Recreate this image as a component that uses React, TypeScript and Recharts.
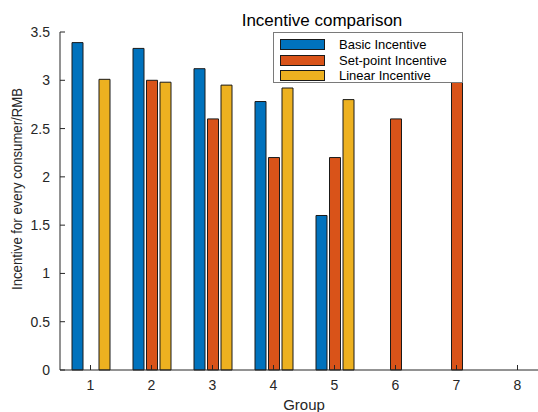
import { Bar, BarChart, XAxis, YAxis } from 'recharts'

const groups = ['1', '2', '3', '4', '5', '6', '7', '8']
const basicIncentive = [3.39, 3.33, 3.12, 2.78, 1.6, 0, 0, 0]
const setpointIncentive = [0, 3.0, 2.6, 2.2, 2.2, 2.6, 3.0, 0]
const linearIncentive = [3.01, 2.98, 2.95, 2.92, 2.8, 0, 0, 0]
const yTicks = [0, 0.5, 1, 1.5, 2, 2.5, 3, 3.5]

const seriesNames = ['Basic Incentive', 'Set-point Incentive', 'Linear Incentive']
const seriesColors = ['#0072BD', '#D95319', '#EDB120']

const data = groups.map((g, i) => ({
  group: g,
  basic: basicIncentive[i],
  setpoint: setpointIncentive[i],
  linear: linearIncentive[i],
}))

const font = '"Liberation Sans", Arial, sans-serif'
const axisColor = '#262626'

function LegendBox() {
  return (
    <div
      style={{
        position: 'absolute',
        left: 273,
        top: 32,
        border: '1px solid #7a7a7a',
        background: '#fff',
        boxSizing: 'border-box',
        width: 190,
        height: 51,
        padding: '4px 0 0 6px',
        fontFamily: font,
        fontSize: 13,
        color: '#000',
      }}
    >
      {seriesNames.map((name, i) => (
        <div key={name} style={{ display: 'flex', alignItems: 'center', height: 15.5 }}>
          <span
            style={{
              display: 'inline-block',
              width: 45,
              height: 11,
              background: seriesColors[i],
              border: '1px solid #1a1a1a',
              boxSizing: 'border-box',
              marginRight: 14,
            }}
          />
          <span>{name}</span>
        </div>
      ))}
    </div>
  )
}

export default function App() {
  return (
    <div
      style={{
        position: 'fixed',
        left: 0,
        top: 0,
        width: 538,
        height: 412,
        overflow: 'hidden',
        background: '#fff',
      }}
    >
      <BarChart
        width={560}
        height={412}
        data={data}
        margin={{ top: 32, right: 12, left: 0, bottom: 0 }}
        barSize={11}
        barGap={2.5}
      >
        <text x={322} y={26} textAnchor="middle" fontFamily={font} fontSize={17} fill="#000">
          Incentive comparison
        </text>
        <XAxis
          xAxisId="top"
          orientation="top"
          dataKey="group"
          height={0}
          tickSize={-5}
          tick={{ fill: 'none', fontSize: 1 }}
          stroke={axisColor}
        />
        <XAxis
          dataKey="group"
          height={42}
          tickSize={-5}
          tickMargin={15}
          stroke={axisColor}
          tick={{ fill: axisColor, fontSize: 14, fontFamily: font }}
          label={{
            value: 'Group',
            position: 'insideBottom',
            offset: 2,
            fill: axisColor,
            fontSize: 15,
            fontFamily: font,
          }}
        />
        <YAxis
          domain={[0, 3.5]}
          ticks={yTicks}
          width={60}
          tickSize={-5}
          tickMargin={15}
          stroke={axisColor}
          tick={{ fill: axisColor, fontSize: 14, fontFamily: font }}
          label={{
            content: () => (
              <text
                x={22}
                y={189}
                transform="rotate(-90 22 189)"
                textAnchor="middle"
                fontFamily={font}
                fontSize={14}
                fill={axisColor}
                textLength={202}
                lengthAdjust="spacingAndGlyphs"
              >
                Incentive for every consumer/RMB
              </text>
            ),
          }}
        />
        <Bar dataKey="basic" name={seriesNames[0]} fill={seriesColors[0]} stroke="#1a1a1a" isAnimationActive={false} />
        <Bar dataKey="setpoint" name={seriesNames[1]} fill={seriesColors[1]} stroke="#1a1a1a" isAnimationActive={false} />
        <Bar dataKey="linear" name={seriesNames[2]} fill={seriesColors[2]} stroke="#1a1a1a" isAnimationActive={false} />
      </BarChart>
      <LegendBox />
    </div>
  )
}
